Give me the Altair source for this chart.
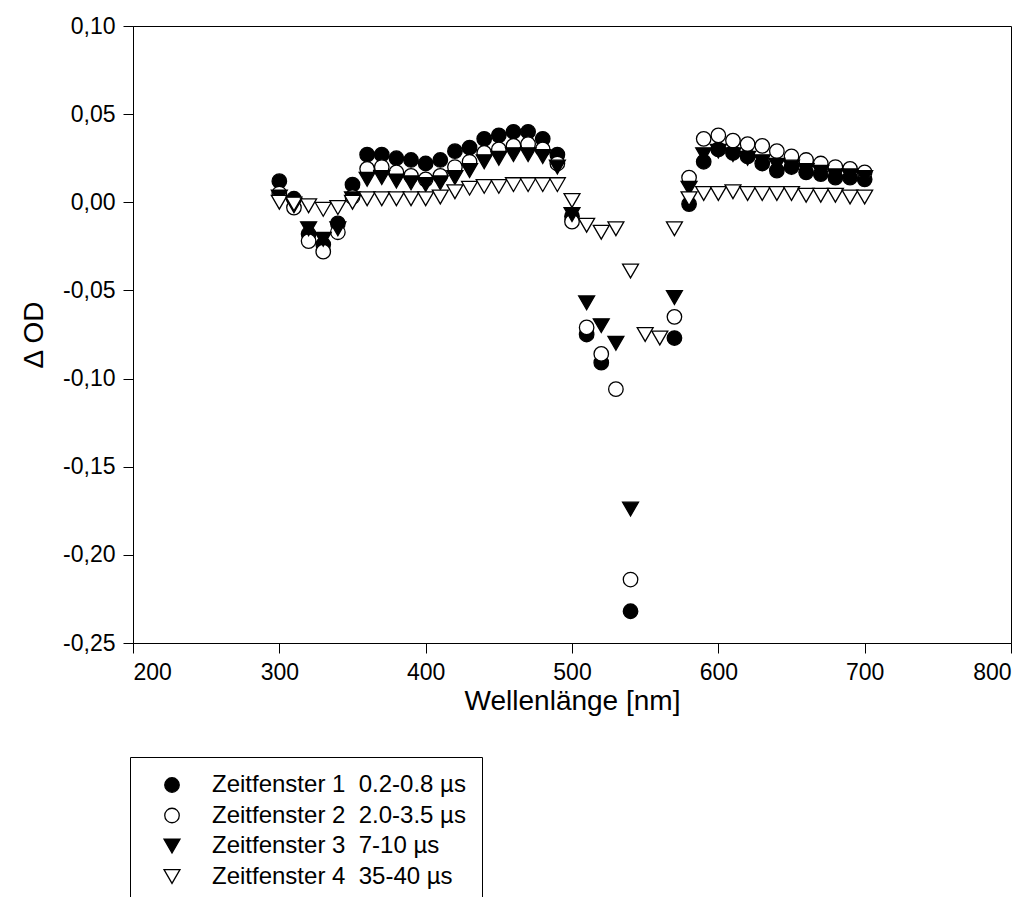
import altair as alt
import pandas as pd

wavelengths = list(range(300, 710, 10))

series_names = [
    "Zeitfenster 1\u00a0 0.2-0.8 µs",
    "Zeitfenster 2\u00a0 2.0-3.5 µs",
    "Zeitfenster 3\u00a0 7-10 µs",
    "Zeitfenster 4\u00a0 35-40 µs",
]

# 300 ... 700 nm in 10 nm steps (None = no point)
s1 = [0.012, 0.002, -0.018, -0.024, -0.012, 0.010, 0.027, 0.027, 0.025, 0.024,
      0.022, 0.024, 0.029, 0.031, 0.036, 0.038, 0.040, 0.040, 0.036, 0.027,
      -0.008, -0.075, -0.091, None, -0.232, None, None, -0.077, -0.001, 0.023,
      0.030, 0.028, 0.026, 0.022, 0.018, 0.020, 0.017, 0.016, 0.014, 0.014, 0.013]
s2 = [0.005, -0.003, -0.022, -0.028, -0.017, 0.003, 0.019, 0.020, 0.017, 0.015,
      0.013, 0.015, 0.020, 0.023, 0.028, 0.030, 0.032, 0.033, 0.030, 0.022,
      -0.011, -0.071, -0.086, -0.106, -0.214, None, None, -0.065, 0.014, 0.036,
      0.038, 0.035, 0.033, 0.032, 0.029, 0.026, 0.024, 0.022, 0.020, 0.019, 0.017]
s3 = [0.003, -0.002, -0.015, -0.021, -0.015, 0.002, 0.013, 0.014, 0.012, 0.011,
      0.010, 0.011, 0.014, 0.018, 0.023, 0.025, 0.027, 0.027, 0.026, 0.020,
      -0.007, -0.057, -0.070, -0.080, -0.174, None, None, -0.054, 0.008, 0.027,
      0.029, 0.027, 0.025, 0.023, 0.021, 0.020, 0.018, 0.017, 0.015, 0.015, 0.014]
s4 = [0.000, -0.001, -0.002, -0.004, -0.003, 0.000, 0.002, 0.002, 0.002, 0.002,
      0.002, 0.003, 0.006, 0.008, 0.009, 0.009, 0.010, 0.010, 0.010, 0.010,
      0.001, -0.013, -0.017, -0.015, -0.039, -0.075, -0.077, -0.015, 0.002, 0.005,
      0.005, 0.006, 0.005, 0.005, 0.005, 0.005, 0.004, 0.004, 0.004, 0.003, 0.003]

x_ticks = [200, 300, 400, 500, 600, 700, 800]
y_ticks = [-0.25, -0.20, -0.15, -0.10, -0.05, 0.00, 0.05, 0.10]

rows = []
for i, (name, vals) in enumerate(zip(series_names, [s1, s2, s3, s4])):
    for w, v in zip(wavelengths, vals):
        if v is not None:
            rows.append({"wl": w, "od": v, "series": name, "order": i})
df = pd.DataFrame(rows)

FONT = "Liberation Sans"
tri_down = "M-1.1,-0.95L1.1,-0.95L0,0.95Z"

legend = alt.Legend(
    title=None,
    orient="none",
    legendX=-3,
    legendY=731,
    strokeColor="black",
    padding=16,
    labelFont=FONT,
    labelFontSize=24,
    labelColor="black",
    labelOffset=28,
    symbolOffset=14,
    rowPadding=6.5,
    symbolSize=210,
    symbolStrokeColor="black",
    symbolStrokeWidth=1.3,
    labelLimit=400,
)

chart = alt.Chart(df).mark_point(filled=True, opacity=1, strokeWidth=1.3, size=210).encode(
    x=alt.X("wl:Q", scale=alt.Scale(domain=[200, 800], nice=False, zero=False),
            axis=alt.Axis(title="Wellenlänge [nm]", values=x_ticks, format="d")),
    y=alt.Y("od:Q", scale=alt.Scale(domain=[-0.25, 0.10], nice=False, zero=False),
            axis=alt.Axis(title="\u0394 OD", values=y_ticks,
                          labelExpr="(datum.value < -1e-9 ? '-' : '') + replace(format(abs(datum.value), '.2f'), '.', ',')")),
    shape=alt.Shape("series:N", sort=series_names,
                    scale=alt.Scale(domain=series_names, range=["circle", "circle", tri_down, tri_down]),
                    legend=legend),
    fill=alt.Fill("series:N", sort=series_names,
                  scale=alt.Scale(domain=series_names, range=["black", "white", "black", "white"]),
                  legend=legend),
    stroke=alt.Stroke("series:N", sort=series_names,
                      scale=alt.Scale(domain=series_names, range=["black", "black", "black", "black"]),
                      legend=legend),
    order=alt.Order("order:Q"),
).properties(
    width=878,
    height=617,
    autosize=alt.AutoSizeParams(type="none"),
    padding={"left": 133, "top": 26, "right": 23, "bottom": 254},
).configure_view(
    stroke="black", strokeWidth=1
).configure_axis(
    domainColor="black",
    domainWidth=1,
    tickColor="black",
    tickWidth=1,
    tickSize=10,
    grid=False,
    labelFont=FONT,
    labelFontSize=23,
    labelColor="black",
    labelPadding=8,
    titleFont=FONT,
    titleFontSize=28,
    titleFontWeight="normal",
    titleColor="black",
).configure_axisY(
    titlePadding=14,
).configure_axisX(
    titlePadding=3,
)

chart.save("out.html", embed_options={"renderer": "svg", "actions": False})
